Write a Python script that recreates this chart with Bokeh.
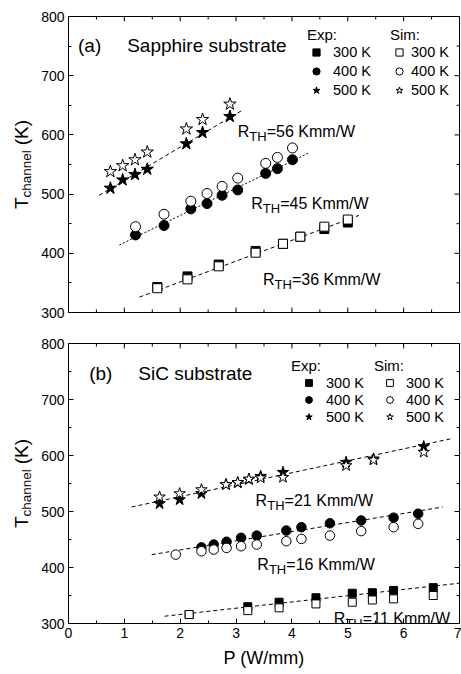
import math
from bokeh.plotting import figure
from bokeh.models import Range1d, FixedTicker, Label, Legend, LegendItem
from bokeh.layouts import column, row
from bokeh.embed import file_html
from bokeh.resources import INLINE

FONT = "Liberation Sans"

# ---------------- data: panel (a) Sapphire substrate ----------------
a_p500 = [0.75, 0.97, 1.19, 1.41, 2.11, 2.40, 2.89]
a_exp500 = [510, 524, 533, 542, 585, 604, 631]
a_sim500 = [538, 548, 558, 571, 610, 626, 652]
a_p400 = [1.20, 1.71, 2.19, 2.48, 2.75, 3.03, 3.53, 3.74, 4.01]
a_exp400 = [431, 447, 475, 484, 498, 507, 535, 543, 558]
a_sim400 = [445, 466, 488, 501, 513, 527, 552, 562, 578]
a_p300 = [1.59, 2.13, 2.69, 3.35, 3.84, 4.15, 4.58, 5.00]
a_exp300 = [343, 361, 381, 404, 416, 428, 441, 452]
a_sim300 = [341, 356, 378, 401, 416, 428, 445, 457]
a_fit500_p = [0.55, 3.10]
a_fit500_t = [498, 641]
a_fit400_p = [0.91, 4.29]
a_fit400_t = [414, 569]
a_fit300_p = [1.27, 5.20]
a_fit300_t = [326, 464]
a_rth = ["56", "45", "36"]

# ---------------- data: panel (b) SiC substrate ----------------
b_p500 = [1.63, 1.99, 2.38, 2.82, 3.03, 3.23, 3.44, 3.84, 4.97, 5.46, 6.36]
b_exp500 = [514, 521, 532, 548, 551, 557, 563, 570, 588, 594, 616]
b_sim500 = [526, 532, 539, 548, 552, 558, 560, 561, 582, 592, 606]
b_pexp400 = [2.38, 2.60, 2.83, 3.09, 3.37, 3.90, 4.17, 4.68, 5.24, 5.82, 6.26]
b_exp400 = [436, 441, 446, 453, 457, 466, 472, 479, 484, 489, 496]
b_psim400 = [1.92, 2.38, 2.60, 2.83, 3.09, 3.37, 3.90, 4.17, 4.68, 5.24, 5.82, 6.26]
b_sim400 = [423, 429, 432, 435, 438, 441, 447, 451, 457, 465, 472, 478]
b_p300 = [2.16, 3.21, 3.77, 4.43, 5.08, 5.44, 5.82, 6.53]
b_exp300 = [316, 330, 338, 346, 354, 355, 359, 364]
b_sim300 = [316, 323, 328, 335, 338, 342, 344, 350]
b_fit500_p = [1.13, 6.85]
b_fit500_t = [508, 630]
b_fit400_p = [1.49, 6.70]
b_fit400_t = [423, 508]
b_fit300_p = [1.72, 7.00]
b_fit300_t = [313, 372]
b_rth = ["21", "16", "11"]

# ---------------- axes ticks / labels ----------------
x_ticks = [0, 1, 2, 3, 4, 5, 6, 7]
x_minor = [0.5, 1.5, 2.5, 3.5, 4.5, 5.5, 6.5]
y_ticks = [300, 400, 500, 600, 700, 800]
y_minor = [350, 450, 550, 650, 750]
temps = ["300 K", "400 K", "500 K"]
x_label = "P (W/mm)"
y_label_parts = ["T", "channel", "(K)"]

LABEL_W = 38
MAIN_W = 461 - LABEL_W
FRAME_LEFT = 67


def style_axis(ax):
    ax.axis_line_color = "black"
    ax.axis_line_width = 1
    ax.major_tick_line_color = "black"
    ax.minor_tick_line_color = "black"
    ax.major_tick_in = 5
    ax.major_tick_out = 0
    ax.minor_tick_in = 3
    ax.minor_tick_out = 0
    ax.major_label_text_font = FONT
    ax.major_label_text_color = "black"
    ax.major_label_text_font_size = "14px"
    ax.major_label_standoff = 4


def make_panel(height, top, bottom, show_x_axis):
    p = figure(width=MAIN_W, height=height, x_range=Range1d(0, 7), y_range=Range1d(300, 800),
               output_backend="svg", toolbar_location=None,
               x_axis_location="below" if show_x_axis else None,
               min_border_left=FRAME_LEFT - LABEL_W, min_border_right=2,
               min_border_top=top, min_border_bottom=bottom)
    p.grid.visible = False
    p.outline_line_color = "black"
    p.outline_line_width = 1
    p.background_fill_color = "white"
    p.border_fill_color = "white"
    p.yaxis.ticker = FixedTicker(ticks=y_ticks, minor_ticks=y_minor)
    for ax in p.yaxis:
        style_axis(ax)
    if show_x_axis:
        p.xaxis.ticker = FixedTicker(ticks=x_ticks, minor_ticks=x_minor)
        for ax in p.xaxis:
            style_axis(ax)
        p.xaxis.axis_label = x_label
        p.xaxis.axis_label_text_font = FONT
        p.xaxis.axis_label_text_font_size = "18px"
        p.xaxis.axis_label_text_font_style = "normal"
        p.xaxis.axis_label_text_color = "black"
        p.xaxis.axis_label_standoff = 7
    else:
        # inward ticks along the bottom edge (frame clips the outer half)
        p.scatter(x_ticks, [p.y_range.start] * len(x_ticks), marker="dash", angle=math.pi / 2,
                  size=10, line_color="black", line_width=1)
        p.scatter(x_minor, [p.y_range.start] * len(x_minor), marker="dash", angle=math.pi / 2,
                  size=6, line_color="black", line_width=1)
    # mirrored inward ticks on top and right edges
    p.scatter(x_ticks, [p.y_range.end] * len(x_ticks), marker="dash", angle=math.pi / 2,
              size=10, line_color="black", line_width=1)
    p.scatter(x_minor, [p.y_range.end] * len(x_minor), marker="dash", angle=math.pi / 2,
              size=6, line_color="black", line_width=1)
    p.scatter([p.x_range.end] * len(y_ticks), y_ticks, marker="dash",
              size=10, line_color="black", line_width=1)
    p.scatter([p.x_range.end] * len(y_minor), y_minor, marker="dash",
              size=6, line_color="black", line_width=1)
    return p


def make_ylabel_fig(height, top, bottom):
    f = figure(width=LABEL_W, height=height, x_range=Range1d(0, LABEL_W), y_range=Range1d(300, 800),
               output_backend="svg", toolbar_location=None,
               x_axis_location=None, y_axis_location=None,
               min_border_left=0, min_border_right=0, min_border_top=top, min_border_bottom=bottom)
    f.grid.visible = False
    f.outline_line_color = None
    f.border_fill_color = "white"
    base = 20.5
    t_w = 0.611 * 19
    ch_w = 3.502 * 13.5
    gap = 5
    k_w = 1.333 * 19
    start = -(t_w + ch_w + gap + k_w) / 2
    common = dict(y=550, angle=math.pi / 2, text_font=FONT, text_baseline="alphabetic",
                  text_align="left", text_color="black")
    f.add_layout(Label(x=base, y_offset=start, text=y_label_parts[0], text_font_size="19px", **common))
    f.add_layout(Label(x=base + 5, y_offset=start + t_w, text=y_label_parts[1],
                       text_font_size="13.5px", **common))
    f.add_layout(Label(x=base, y_offset=start + t_w + ch_w + gap, text=y_label_parts[2],
                       text_font_size="19px", **common))
    return f


def rth_label(p, x, y, val):
    common = dict(x=x, y=y, text_font=FONT, text_baseline="alphabetic", text_align="left",
                  text_color="black")
    p.add_layout(Label(text="R", text_font_size="16px", **common))
    p.add_layout(Label(text="TH", text_font_size="13px", x_offset=11.6, y_offset=-5, **common))
    p.add_layout(Label(text="=" + val + " Kmm/W", text_font_size="16px", x_offset=29, **common))


def plot_series(p, sq, circ, star, fits, ssq, scirc, sstar):
    for (fx, fy, dash) in fits:
        p.line(fx, fy, line_color="black", line_width=1, line_dash=dash)
    (px3, e3, s3), (pxe4, e4, pxs4, s4), (px5, e5, s5) = sq, circ, star
    r_e3 = p.scatter(px3, e3, marker="square", size=ssq, fill_color="black", line_color="black")
    r_e4 = p.scatter(pxe4, e4, marker="circle", size=scirc, fill_color="black", line_color="black")
    r_e5 = p.scatter(px5, e5, marker="star", size=sstar, fill_color="black", line_color="black")
    r_s3 = p.scatter(px3, s3, marker="square", size=ssq, fill_color="white", line_color="black")
    r_s4 = p.scatter(pxs4, s4, marker="circle", size=scirc, fill_color="white", line_color="black")
    r_s5 = p.scatter(px5, s5, marker="star", size=sstar, fill_color="white", line_color="black")
    return [r_e3, r_e4, r_e5], [r_s3, r_s4, r_s5]


def add_legend(p, title, renderers, loc, glyph_w, glyph_h, standoff, spacing):
    items = [LegendItem(label=t, renderers=[r]) for t, r in zip(temps, renderers)]
    leg = Legend(items=items, title=title, location=loc, padding=0, margin=0,
                 spacing=spacing, glyph_width=glyph_w, glyph_height=glyph_h,
                 label_height=glyph_h, label_standoff=standoff,
                 label_text_font=FONT, label_text_font_size="14.5px", label_text_color="black",
                 title_text_font=FONT, title_text_font_size="15px", title_text_font_style="normal",
                 title_text_color="black", title_standoff=0,
                 border_line_color=None, background_fill_alpha=0)
    p.add_layout(leg)


# ---------------- panel (a) ----------------
H_A, TOP_A, BOT_A = 327, 16, 15
pa = make_panel(H_A, TOP_A, BOT_A, False)
exp_a, sim_a = plot_series(
    pa,
    (a_p300, a_exp300, a_sim300),
    (a_p400, a_exp400, a_p400, a_sim400),
    (a_p500, a_exp500, a_sim500),
    [(a_fit500_p, a_fit500_t, "4 3"), (a_fit400_p, a_fit400_t, "2 2"), (a_fit300_p, a_fit300_t, "4 3")],
    9, 10, 13)
add_legend(pa, "Exp:", exp_a, (239, 213), 18, 18, 8, 1)
add_legend(pa, "Sim:", sim_a, (322, 213), 18, 18, 3, 1)
pa.add_layout(Label(x=0.17, y=751, text="(a)", text_font=FONT, text_font_size="19px",
                    text_baseline="alphabetic", text_color="black"))
pa.add_layout(Label(x=1.05, y=751, text="Sapphire substrate", text_font=FONT, text_font_size="19px",
                    text_baseline="alphabetic", text_color="black"))
rth_label(pa, 3.03, 605, a_rth[0])
rth_label(pa, 3.27, 484, a_rth[1])
rth_label(pa, 3.48, 355, a_rth[2])
la = make_ylabel_fig(H_A, TOP_A, BOT_A)

# ---------------- panel (b) ----------------
H_B, TOP_B, BOT_B = 347, 16, 51
pb = make_panel(H_B, TOP_B, BOT_B, True)
exp_b, sim_b = plot_series(
    pb,
    (b_p300, b_exp300, b_sim300),
    (b_pexp400, b_exp400, b_psim400, b_sim400),
    (b_p500, b_exp500, b_sim500),
    [(b_fit500_p, b_fit500_t, "4 3"), (b_fit400_p, b_fit400_t, "4 3"), (b_fit300_p, b_fit300_t, "4 3")],
    8, 9.5, 12)
add_legend(pb, "Exp:", exp_b, (223, 198), 35, 17, 0, 0)
add_legend(pb, "Sim:", sim_b, (306, 198), 31, 17, 1, 0)
pb.add_layout(Label(x=0.37, y=747, text="(b)", text_font=FONT, text_font_size="19px",
                    text_baseline="alphabetic", text_color="black"))
pb.add_layout(Label(x=1.25, y=747, text="SiC substrate", text_font=FONT, text_font_size="19px",
                    text_baseline="alphabetic", text_color="black"))
rth_label(pb, 3.35, 520, b_rth[0])
rth_label(pb, 3.38, 405, b_rth[1])
rth_label(pb, 4.75, 309.5, b_rth[2])
lb = make_ylabel_fig(H_B, TOP_B, BOT_B)

layout = column(row(la, pa, spacing=0), row(lb, pb, spacing=0), spacing=0)
open("out.html", "w").write(file_html(layout, INLINE))
